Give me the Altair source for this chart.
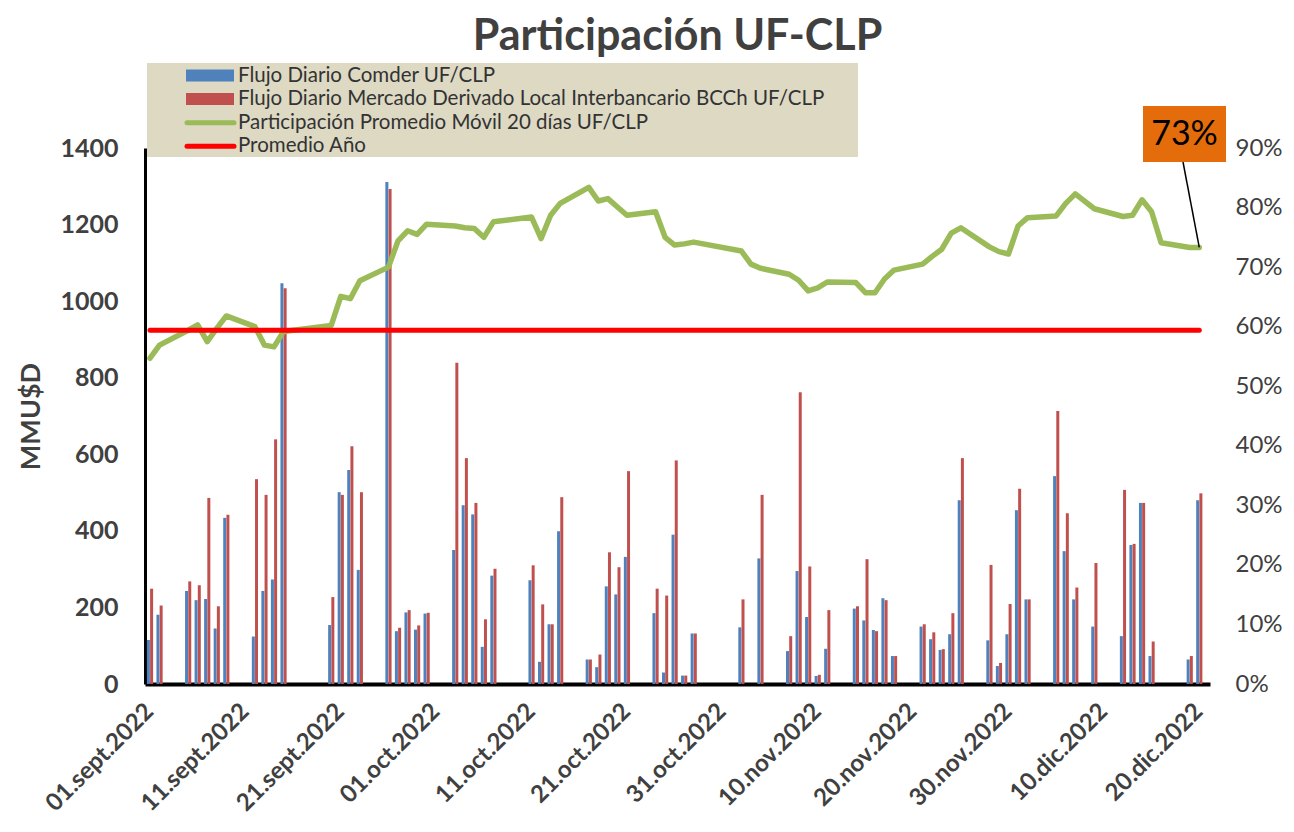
import altair as alt
import pandas as pd

# ---------------- data ----------------
fechas = [
    "2022-09-01", "2022-09-02", "2022-09-05", "2022-09-06", "2022-09-07", "2022-09-08", "2022-09-09",
    "2022-09-12", "2022-09-13", "2022-09-14", "2022-09-15", "2022-09-20", "2022-09-21", "2022-09-22",
    "2022-09-23", "2022-09-26", "2022-09-27", "2022-09-28", "2022-09-29", "2022-09-30",
    "2022-10-03", "2022-10-04", "2022-10-05", "2022-10-06", "2022-10-07", "2022-10-11", "2022-10-12",
    "2022-10-13", "2022-10-14", "2022-10-17", "2022-10-18", "2022-10-19", "2022-10-20", "2022-10-21",
    "2022-10-24", "2022-10-25", "2022-10-26", "2022-10-27", "2022-10-28",
    "2022-11-02", "2022-11-03", "2022-11-04", "2022-11-07", "2022-11-08", "2022-11-09", "2022-11-10",
    "2022-11-11", "2022-11-14", "2022-11-15", "2022-11-16", "2022-11-17", "2022-11-18", "2022-11-21",
    "2022-11-22", "2022-11-23", "2022-11-24", "2022-11-25", "2022-11-28", "2022-11-29", "2022-11-30",
    "2022-12-01", "2022-12-02", "2022-12-05", "2022-12-06", "2022-12-07", "2022-12-09", "2022-12-12",
    "2022-12-13", "2022-12-14", "2022-12-15", "2022-12-16", "2022-12-19", "2022-12-20",
]

comder = [
    115, 181, 243, 219, 222, 145, 434,
    124, 243, 273, 1047, 154, 501, 559,
    298, 1311, 138, 187, 142, 184,
    350, 467, 443, 97, 283, 271, 58,
    156, 399, 64, 44, 255, 234, 332,
    185, 30, 390, 22, 132,
    148, None, 328, 86, 295, 175, 21,
    92, 197, 166, 141, 224, 73, 150,
    117, 89, 130, 480, 114, 47, 130,
    454, 221, 543, 347, 221, 150, 125,
    363, 473, 73, None, 64, 480,
]

mercado = [
    249, 205, 268, 258, 486, 203, 442,
    535, 494, 639, 1034, 227, 494, 621,
    501, 1293, 147, 193, 153, 186,
    839, 590, 473, 169, 301, 310, 208,
    156, 488, 64, 77, 344, 305, 556,
    249, 231, 584, 22, 132,
    221, None, 494, 125, 762, 307, 24,
    193, 203, 326, 138, 219, 73, 156,
    135, 91, 185, 590, 311, 55, 209,
    510, 221, 713, 446, 252, 316, 507,
    366, 473, 111, None, 73, 498,
]

participacion = [  # % moving average 20 days
    54.7, 56.9, 59.4, 60.3, 57.5, 59.7, 61.8,
    60.0, 56.9, 56.6, 59.2, 60.2, 65.1, 64.7,
    67.7, 70.0, 74.4, 76.1, 75.5, 77.2,
    76.9, 76.6, 76.5, 75.0, 77.6, 78.4, 74.8,
    78.7, 80.7, 83.4, 81.1, 81.5, 80.1, 78.7,
    79.3, 75.0, 73.7, 73.9, 74.2,
    72.7, 70.5, 69.8, 68.8, 67.8, 66.0, 66.5,
    67.5, 67.4, 65.7, 65.7, 68.0, 69.5, 70.5,
    71.8, 73.0, 75.7, 76.6, 73.4, 72.6, 72.2,
    76.9, 78.3, 78.6, 80.7, 82.3, 79.8, 78.5,
    78.7, 81.3, 79.3, 74.1, 73.3, 73.3,
]

promedio_anio = 59.4

tick_labels = [
    "01.sept.2022", "11.sept.2022", "21.sept.2022", "01.oct.2022", "11.oct.2022", "21.oct.2022",
    "31.oct.2022", "10.nov.2022", "20.nov.2022", "30.nov.2022", "10.dic.2022", "20.dic.2022",
]
tick_days = [0, 10, 20, 30, 40, 50, 60, 70, 80, 90, 100, 110]

legend_labels = [
    "Flujo Diario Comder UF/CLP",
    "Flujo Diario Mercado Derivado Local Interbancario BCCh UF/CLP",
    "Participación Promedio Móvil 20 días UF/CLP",
    "Promedio Año",
]
legend_colors = ["#4F81BD", "#C0504D", "#9BBB59", "#FF0000"]
legend_kinds = ["bar", "bar", "line", "line"]

titulo = "Participación UF-CLP"

# ---------------- tables ----------------
inicio = pd.Timestamp("2022-09-01")
df = pd.DataFrame({
    "fecha": pd.to_datetime(fechas),
    "comder": comder,
    "mercado": mercado,
    "part": [p / 100 for p in participacion],
})
df["dia"] = (df["fecha"] - inicio).dt.days
df["comder"] = pd.to_numeric(df["comder"])
df["mercado"] = pd.to_numeric(df["mercado"])

prom_df = pd.DataFrame({"dia": [0], "dia2": [int(df["dia"].max())], "valor": [promedio_anio / 100]})
ultimo = pd.DataFrame({
    "dia": [int(df["dia"].iloc[-1])],
    "valor": [df["part"].iloc[-1]],
    "texto": [f"{round(participacion[-1])}%"],
})
one = pd.DataFrame({"k": [0]})

W, H = 1065, 536
FONT = "Lato"
GRAY = "#404040"

label_expr = "[" + ",".join(f"'{t}'" for t in tick_labels) + "][round(datum.value/10)]"

X = lambda f: alt.X(
    f"{f}:Q",
    scale=alt.Scale(domain=[0, 110.6], nice=False, zero=False),
    axis=alt.Axis(
        values=tick_days, labelExpr=label_expr, labelAngle=-45, labelFontSize=24,
        labelFontWeight="bold", labelColor=GRAY, labelFont=FONT, ticks=False, grid=False,
        domainColor="black", domainWidth=4, labelPadding=15, labelOffset=-9, title=None,
        labelOverlap=False,
    ),
)

def Yleft(f):
    return alt.Y(
        f"{f}:Q",
        scale=alt.Scale(domain=[0, 1400], nice=False),
        axis=alt.Axis(
            values=list(range(0, 1401, 200)), format="d", orient="left", labelFontSize=25,
            labelFontWeight="bold", labelColor=GRAY, labelFont=FONT, ticks=False, grid=False,
            domainColor="black", domainWidth=3, labelPadding=27, title="MMU$D",
            titleFontSize=27, titleFont=FONT, titleFontWeight="bold", titleColor=GRAY,
            titlePadding=14,
        ),
    )

def Yright(f):
    return alt.Y(
        f"{f}:Q",
        scale=alt.Scale(domain=[0, 0.9], nice=False),
        axis=alt.Axis(
            values=[i / 10 for i in range(10)], format=".0%", orient="right", labelFontSize=24,
            labelColor=GRAY, labelFont=FONT, ticks=False, grid=False, domain=False,
            labelPadding=25, title=None,
        ),
    )

base = alt.Chart(df)

blue = base.mark_bar(orient="vertical", width=3, xOffset=-1.6, color=legend_colors[0]).encode(
    x=X("dia"), y=Yleft("comder"))
red = base.mark_bar(orient="vertical", width=3, xOffset=1.6, color=legend_colors[1]).encode(
    x=X("dia"), y=Yleft("mercado"))
bars = alt.layer(blue, red)

green = base.mark_line(color=legend_colors[2], strokeWidth=5.5, strokeJoin="round",
                       strokeCap="round").encode(x=X("dia"), y=Yright("part"))
avg = alt.Chart(prom_df).mark_rule(color=legend_colors[3], strokeWidth=5, strokeCap="round").encode(
    x=X("dia"), x2="dia2:Q", y=Yright("valor"))
leader = alt.Chart(ultimo).mark_rule(color="black", strokeWidth=1.5).encode(
    x=X("dia"), y=Yright("valor"), x2=alt.value(1038), y2=alt.value(14))
lines = alt.layer(green, avg, leader)

# decorations: title, legend box, annotation box
deco = []
deco.append(alt.Chart(one).mark_text(text=titulo, font=FONT, fontSize=43, fontWeight="bold",
                                     color=GRAY, align="center", baseline="middle").encode(
    x=alt.value(W / 2), y=alt.value(-111)))
deco.append(alt.Chart(one).mark_rect(color="#DDD9C3").encode(
    x=alt.value(2), x2=alt.value(713), y=alt.value(-85), y2=alt.value(9)))
row0, step = -72.5, 23.6
for i, (lab, col, kind) in enumerate(zip(legend_labels, legend_colors, legend_kinds)):
    yy = row0 + i * step
    if kind == "bar":
        deco.append(alt.Chart(one).mark_rect(color=col).encode(
            x=alt.value(41), x2=alt.value(89), y=alt.value(yy - 6), y2=alt.value(yy + 6)))
    else:
        deco.append(alt.Chart(one).mark_rule(color=col, strokeWidth=5, strokeCap="round").encode(
            x=alt.value(42), x2=alt.value(89), y=alt.value(yy), y2=alt.value(yy)))
    deco.append(alt.Chart(one).mark_text(text=lab, font=FONT, fontSize=20.5, color="#333333",
                                         align="left", baseline="middle").encode(
        x=alt.value(93), y=alt.value(yy)))
deco.append(alt.Chart(one).mark_rect(color="#E46C0A").encode(
    x=alt.value(998), x2=alt.value(1081), y=alt.value(-42), y2=alt.value(14)))
deco.append(alt.Chart(ultimo).mark_text(font=FONT, fontSize=34, color="black", align="center",
                                        baseline="middle").encode(
    text="texto:N", x=alt.value(1039.5), y=alt.value(-13)))

chart = alt.layer(bars, lines, *deco).resolve_scale(y="independent").properties(
    width=W, height=H,
    autosize=alt.AutoSizeParams(type="none"),
    padding={"left": 137, "top": 140, "right": 76, "bottom": 140},
    background="white",
).configure_view(stroke=None)

chart.save("out.html", embed_options={"renderer": "svg", "actions": False})
